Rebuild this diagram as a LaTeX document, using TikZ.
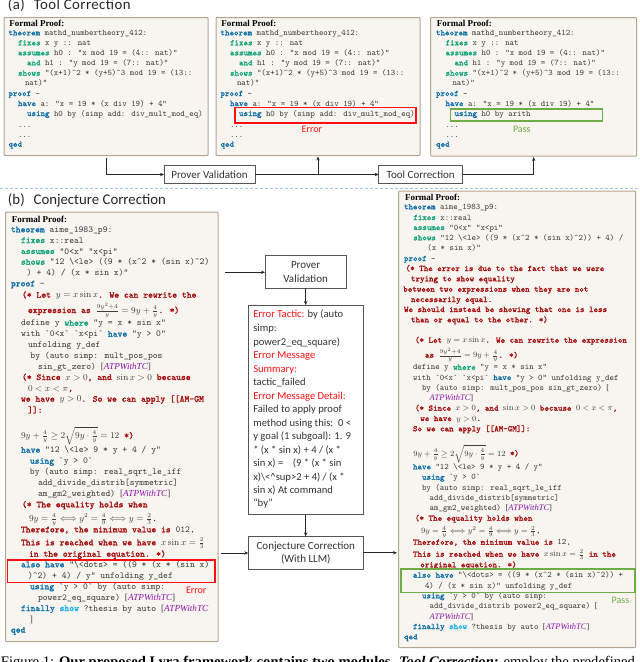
\documentclass[tikz,border=0pt]{standalone}
\usepackage{fontspec}
\usetikzlibrary{arrows.meta}
\newfontfamily\carl{Carlito}
\newfontfamily\tms{Liberation Serif}
\newfontfamily\ttb[FakeBold=1.4]{Latin Modern Mono}
\definecolor{kwb}{HTML}{0F6FA8}
\definecolor{kwg}{HTML}{12A37A}
\definecolor{kwc}{HTML}{1AAFE8}
\definecolor{cmt}{HTML}{A50F0F}
\definecolor{atpc}{HTML}{8A14A8}
\definecolor{codec}{HTML}{3C3C3C}
\definecolor{boxf}{HTML}{F8F5F0}
\definecolor{boxd}{HTML}{B5A58F}
\definecolor{errr}{HTML}{FF1010}
\definecolor{okg}{HTML}{6FAC46}
\definecolor{flowd}{HTML}{555555}
\definecolor{dashb}{HTML}{9CC8EE}
\newcounter{lnc}
\newcommand\kb[1]{\textcolor{kwb}{\ttb #1}}
\newcommand\kg[1]{\textcolor{kwg}{\ttb #1}}
\newcommand\kc[1]{\textcolor{cmt}{\ttb #1}}
\newcommand\atp{{\tms\itshape\textcolor{atpc}{ATPWithTC}}}
\newcommand\sqb[1]{{\tms #1}}
\newcommand\crt{\textasciicircum}
\newcommand\bsl{\textbackslash}
\newcommand\Ln[3]{\stepcounter{lnc}\node[codeline] (ln\arabic{lnc}) at (#1,#2) {#3};}
\newcommand\Hd[2]{\stepcounter{lnc}\node[headline] (ln\arabic{lnc}) at (#1,#2) {Formal Proof:};}
\newcommand\Ct[3]{\stepcounter{lnc}\node[midline] (ln\arabic{lnc}) at (#1,#2) {#3};}
\newcommand\Er[1]{\textcolor{errr}{#1}}
\newcommand\TopProof[1]{%
\Hd{9.3}{26}
\Ln{8.5}{35.3}{\kb{theorem} mathd\_numbertheory\_412:}
\Ln{18}{45.3}{\kg{fixes} x y :: nat}
\Ln{18}{55.3}{\kg{assumes} h0 : "x mod 19 = (4:: nat)"}
\Ln{27}{65.3}{\kg{and} h1 : "y mod 19 = (7:: nat)"}
\Ln{18}{75.7}{\kg{shows} "(x+1)\crt2 * (y+5)\crt3 mod 19 = (13::}
\Ln{25}{85.7}{nat)"}
\Ln{8.5}{96}{\kb{proof} -}
\Ln{18}{106}{\kb{have} a: "x = 19 * (x div 19) + 4"}
\Ln{27}{116}{#1}
\Ln{18}{127.5}{...}
\Ln{18}{137}{...}
\Ln{8.5}{146.7}{\kb{qed}}}
\tikzset{
 proofbox/.style={draw=boxd,fill=boxf,line width=1pt,rounded corners=0.8pt,anchor=north west,inner sep=0pt,outer sep=0pt},
 flowbox/.style={draw=flowd,fill=white,line width=0.9pt,inner sep=0pt,outer sep=0pt,align=center,font=\carl\fontsize{11}{13.4}\selectfont,text=black!80},
 codeline/.style={anchor=base west,inner sep=0pt,outer sep=0pt,text=codec,font=\ttfamily\fontsize{8.5}{10}\selectfont},
 bigcode/.style={codeline/.append style={font=\ttfamily\fontsize{9.2}{10}\selectfont}},
 headline/.style={anchor=base west,inner sep=0pt,outer sep=0pt,text=black,font=\tms\bfseries\fontsize{9}{10}\selectfont},
 midline/.style={anchor=base west,inner sep=0pt,outer sep=0pt,text=black!80,font=\carl\fontsize{10.6}{12}\selectfont},
 flow/.style={draw=black!85,line width=0.9pt,-{Stealth[length=4pt,width=3.4pt]}},
 errbox/.style={draw=errr,line width=1.4pt,inner sep=0pt,outer sep=0pt,anchor=north west},
 okbox/.style={draw=okg,line width=1.4pt,inner sep=0pt,outer sep=0pt,anchor=north west},
 errlabel/.style={anchor=base west,inner sep=0pt,outer sep=0pt,text=errr,font=\carl\fontsize{10}{12}\selectfont},
 oklabel/.style={anchor=base west,inner sep=0pt,outer sep=0pt,text=okg,font=\carl\fontsize{10}{12}\selectfont},
 sectitle/.style={anchor=base west,inner sep=0pt,outer sep=0pt,text=black!85,font=\carl\fontsize{14.8}{16}\selectfont},
}
\begin{document}
\begin{tikzpicture}[x=1pt,y=-1pt]
\useasboundingbox (0,0) rectangle (640,662);
% titles
\node[sectitle] (ta) at (8,9.5) {\addfontfeature{LetterSpace=3}(a)\hspace{0.6em}Tool Correction};
\node[sectitle] (tb) at (8,204) {(b)\hspace{0.6em}Conjecture Correction};
% top boxes
\node[proofbox,minimum width=204pt,minimum height=138pt] (a1) at (4,17.5) {};
\node[proofbox,minimum width=204pt,minimum height=138pt] (a2) at (216,17.5) {};
\node[proofbox,minimum width=206pt,minimum height=138.5pt] (a3) at (430.7,17.5) {};
\TopProof{\kb{using} h0 by (simp add: div\_mult\_mod\_eq)}
\begin{scope}[xshift=212pt]
\TopProof{\kb{using} h0 by (simp add: div\_mult\_mod\_eq)}
\end{scope}
\begin{scope}[xshift=427.5pt]
\TopProof{\kb{using} h0 by arith}
\end{scope}
\node[errbox,minimum width=181pt,minimum height=15.3pt] (re1) at (235,107.7) {};
\node[okbox,minimum width=152pt,minimum height=12pt] (gr1) at (450.7,109) {};
\node[errlabel] (el1) at (301.7,132.7) {Error};
\node[oklabel] (ol1) at (513,132.5) {Pass};
% top flow
\node[flowbox,minimum width=91pt,minimum height=18pt,anchor=north west] (pv1) at (164,165.5) {Prover Validation};
\node[flowbox,minimum width=84pt,minimum height=18pt,anchor=north west] (tc1) at (378.7,165.5) {Tool Correction};
\draw[flow] ([yshift=-2pt]a1.south) |- (pv1.west);
\draw[flow] (pv1.east) -| ([yshift=-1pt]a2.south);
\coordinate (jn) at (pv1.east -| a2.south);
\draw[flow] (jn) -- (tc1.west);
\draw[flow] (tc1.east) -| ([yshift=-1pt]a3.south);
% separator
\coordinate (dl) at (0,188.3);
\coordinate (dr) at (640,188.3);
\draw[draw=dashb,line width=1pt,dash pattern=on 3.4pt off 1.6pt] (dl) -- (dr);
% lower boxes
\node[proofbox,minimum width=212.5pt,minimum height=429.7pt] (bl) at (5.5,212) {};
\node[proofbox,minimum width=237pt,minimum height=456.6pt] (br) at (398.7,191) {};
% left proof
\tikzset{bigcode}
\Hd{12}{222.3}
\Ln{11}{232.3}{\kb{theorem} aime\_1983\_p9:}
\Ln{21}{243}{\kg{fixes} x::real}
\Ln{21}{254}{\kg{assumes} "0<x" "x<pi"}
\Ln{21}{264.7}{\kg{shows} "12 \bsl<le> ((9 * (x\crt2 * (sin x)\crt2)}
\Ln{27}{275.7}{) + 4) / (x * sin x)"}
\Ln{11}{286.3}{\kb{proof} -}
\Ln{22}{297.7}{\kc{(* Let} $y=x\sin x$\kc{. We can rewrite the}}
\Ln{28}{313}{\kc{expression as} $\frac{9y^2+4}{y}=9y+\frac{4}{y}$\kc{. *)}}
\Ln{21}{325.7}{define y \kg{where} "y = x * sin x"}
\Ln{21}{336.7}{with `0<x` `x<pi` \kb{have} "y > 0"}
\Ln{28}{347.7}{unfolding y\_def}
\Ln{30.5}{358.3}{by (auto simp: mult\_pos\_pos}
\Ln{38}{369.3}{sin\_gt\_zero) \sqb{[}\atp\sqb{]}}
\Ln{22}{380}{\kc{(* Since} $x>0$\kc{, and} $\sin x>0$ \kc{because}}
\Ln{28}{391}{$0<x<\pi$\kc{,}}
\Ln{21}{401.7}{\kc{we have} $y>0$\kc{. So we can apply [[AM-GM}}
\Ln{28}{412.7}{\kc{]]:}}
\Ln{21}{438.3}{$9y+\frac{4}{y}\geq 2\sqrt{9y\cdot\frac{4}{y}}=12$ \kc{*)}}
\Ln{21}{452.7}{\kb{have} "12 \bsl<le> 9 * y + 4 / y"}
\Ln{30}{463.7}{\kb{using} `y > 0`}
\Ln{30}{474.7}{by (auto simp: real\_sqrt\_le\_iff}
\Ln{38}{485.7}{add\_divide\_distrib[symmetric]}
\Ln{38}{496.3}{am\_gm2\_weighted) \sqb{[}\atp\sqb{]}}
\Ln{22}{507.3}{\kc{(* The equality holds when}}
\Ln{29}{521}{$9y=\frac{4}{y}\Longleftrightarrow y^2=\frac{4}{9}\Longleftrightarrow y=\frac{2}{3}$\kc{.}}
\Ln{21}{532.3}{\kc{Therefore, the minimum value is} 012\kc{.}}
\Ln{21}{545.3}{\kc{This is reached when we have} $x\sin x=\frac{2}{3}$}
\Ln{29}{556.7}{\kc{in the original equation. *)}}
\Ln{21}{567.3}{\kb{also have} "\bsl<dots> = ((9 * (x * (sin x)}
\Ln{28}{578.7}{)\crt2) + 4) / y" unfolding y\_def}
\Ln{30}{589.3}{\kb{using} `y > 0` by (auto simp:}
\Ln{38}{600.3}{power2\_eq\_square) \sqb{[}\atp\sqb{]}}
\Ln{21}{611}{\kb{finally} \textcolor{kwc}{\ttb show} ?thesis by auto \sqb{[}\atp}
\Ln{30}{622}{\sqb{]}}
\Ln{11}{632.7}{\kb{qed}}
\node[errbox,minimum width=207.3pt,minimum height=22.3pt] (re2) at (7.7,560) {};
\node[errlabel] (el2) at (186,593) {Error};
% right proof
\tikzset{codeline/.append style={font=\ttfamily\fontsize{8.5}{10}\selectfont}}
\Hd{405}{200}
\Ln{404}{209.3}{\kb{theorem} aime\_1983\_p9:}
\Ln{413.3}{220}{\kg{fixes} x::real}
\Ln{413.3}{230}{\kg{assumes} "0<x" "x<pi"}
\Ln{413.3}{240.3}{\kg{shows} "12 \bsl<le> ((9 * (x\crt2 * (sin x)\crt2)) + 4) /}
\Ln{427.3}{250.7}{(x * sin x)"}
\Ln{404}{261}{\kb{proof} -}
\Ln{405.7}{271}{\kc{(* The error is due to the fact that we were}}
\Ln{411}{281.3}{\kc{trying to show equality}}
\Ln{403.3}{291.7}{\kc{between two expressions when they are not}}
\Ln{411}{302}{\kc{necessarily equal.}}
\Ln{404}{312}{\kc{We should instead be showing that one is less}}
\Ln{411}{322.3}{\kc{than or equal to the other. *)}}
\Ln{415}{342.7}{\kc{(* Let} $y=x\sin x$\kc{. We can rewrite the expression}}
\Ln{425}{357.7}{\kc{as} $\frac{9y^2+4}{y}=9y+\frac{4}{y}$\kc{. *)}}
\Ln{413}{369.7}{define y \kg{where} "y = x * sin x"}
\Ln{413}{380}{with `0<x` `x<pi` \kb{have} "y > 0" unfolding y\_def}
\Ln{422}{390.3}{by (auto simp: mult\_pos\_pos sin\_gt\_zero) \sqb{[}}
\Ln{429.7}{400.7}{\atp\sqb{]}}
\Ln{415}{410.7}{\kc{(* Since} $x>0$\kc{, and} $\sin x>0$ \kc{because} $0<x<\pi$\kc{,}}
\Ln{420.3}{421}{\kc{we have} $y>0$\kc{.}}
\Ln{413}{431.3}{\kc{So we can apply [[AM-GM]]:}}
\Ln{413.3}{456}{$9y+\frac{4}{y}\geq 2\sqrt{9y\cdot\frac{4}{y}}=12$ \kc{*)}}
\Ln{413}{469.3}{\kb{have} "12 \bsl<le> 9 * y + 4 / y"}
\Ln{422}{479.7}{\kb{using} `y > 0`}
\Ln{422}{490}{by (auto simp: real\_sqrt\_le\_iff}
\Ln{429.7}{500.3}{add\_divide\_distrib[symmetric]}
\Ln{429.7}{510.3}{am\_gm2\_weighted) \sqb{[}\atp\sqb{]}}
\Ln{415}{520.7}{\kc{(* The equality holds when}}
\Ln{421}{533.3}{$9y=\frac{4}{y}\Longleftrightarrow y^2=\frac{4}{9}\Longleftrightarrow y=\frac{2}{3}$\kc{.}}
\Ln{413}{544.7}{\kc{Therefore, the minimum value is} 12\kc{.}}
\Ln{413}{556.7}{\kc{This is reached when we have} $x\sin x=\frac{2}{3}$ \kc{in the}}
\Ln{420.3}{567.3}{\kc{original equation. *)}}
\Ln{413}{577.7}{\kb{also have} "\bsl<dots> = ((9 * (x\crt2 * (sin x)\crt2)) +}
\Ln{425}{588}{4) / (x * sin x)" unfolding y\_def}
\Ln{422}{598.3}{\kb{using} `y > 0` by (auto simp:}
\Ln{429.7}{608.7}{add\_divide\_distrib power2\_eq\_square) \sqb{[}}
\Ln{429.7}{619}{\atp\sqb{]}}
\Ln{413}{629}{\kb{finally} \textcolor{kwc}{\ttb show} ?thesis by auto \sqb{[}\atp\sqb{]}}
\Ln{404}{639.3}{\kb{qed}}
\node[okbox,minimum width=234pt,minimum height=23.3pt] (gr2) at (401,569) {};
\node[oklabel] (ol2) at (611.7,603) {Pass};
% middle flow
\node[flowbox,minimum width=81.3pt,minimum height=32.6pt,anchor=north west] (pv2) at (265,255.7) {Prover\\Validation};
\node[flowbox,minimum width=114.7pt,minimum height=209.7pt,anchor=north west] (em) at (248.3,305) {};
\node[flowbox,minimum width=115pt,minimum height=33pt,anchor=north west] (cc) at (248.3,536.3) {Conjecture Correction\\(With LLM)};
\Ct{253.3}{317.7}{\Er{Error Tactic:} by (auto}
\Ct{253.3}{331.3}{simp:}
\Ct{253.3}{345}{power2\_eq\_square)}
\Ct{253.3}{358.3}{\Er{Error Message}}
\Ct{253.3}{372}{\Er{Summary:}}
\Ct{253.3}{385.7}{tactic\_failed}
\Ct{253.3}{399}{\Er{Error Message Detail:}}
\Ct{253.3}{412.7}{Failed to apply proof}
\Ct{253.3}{426.3}{method using this:\ \ 0 <}
\Ct{253.3}{439.7}{y goal (1 subgoal): 1. 9}
\Ct{253.3}{453.3}{* (x * sin x) + 4 / (x *}
\Ct{253.3}{466.7}{sin x) =\ \ \ \ (9 * (x * sin}
\Ct{253.3}{480.3}{x)\textbackslash<\textasciicircum sup>2 + 4) / (x *}
\Ct{253.3}{493.7}{sin x) At command}
\Ct{253.3}{506.7}{“by”}
\coordinate (lo) at (225,272.3);
\coordinate (li) at (221,553);
\coordinate (ro) at (397,552.8);
\draw[flow] (lo) -- (lo -| pv2.west);
\draw[flow] (pv2.south) -- (pv2.south |- em.north);
\draw[flow] (em.south) -- (em.south |- cc.north);
\draw[flow] (li) -- (li -| cc.west);
\draw[flow] (ro -| cc.east) -- (ro);
% caption
\node[anchor=base west,inner sep=0pt,outer sep=0pt,text=black,font=\tms\fontsize{14.6}{16}\selectfont] (cap) at (1,666) {Figure 1:\hspace{5pt}\textbf{Our proposed Lyra framework contains two modules.} \textbf{\textit{Tool Correction:}} employ the predefined};
\end{tikzpicture}
\end{document}
